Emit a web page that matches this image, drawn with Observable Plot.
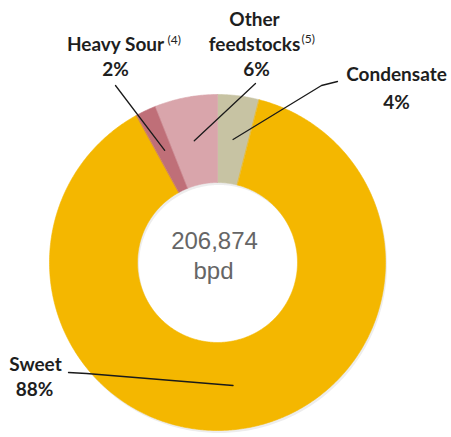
<!DOCTYPE html>
<html><head><meta charset="utf-8">
<script src="https://cdn.jsdelivr.net/npm/d3@7"></script>
<script src="https://cdn.jsdelivr.net/npm/@observablehq/plot@0.6"></script>
<style>body{margin:0;background:#fff}#chart svg{display:block}</style>
</head><body><div id="chart"></div>
<script>
// ---- data ----
const categories = ["Condensate", "Sweet", "Heavy Sour", "Other feedstocks"];
const shares = [4, 88, 2, 6];
const footnotes = ["", "", "(4)", "(5)"];
const totalLabel = "206,874";
const unitLabel = "bpd";

// ---- styles / layout ----
const colors = ["#C7C3A3", "#F4B700", "#BF6F78", "#D9A5AB"];
const W = 451, H = 437;
const cx = 217, cy = 262, R = 168, r = 80;
// label layout (chart units = pixels), baselines
const labelLayout = {
  "Condensate":       {x: 396, y: 80,  lines: 1, pctX: 396, pctY: 108, lead: [[337, 81], [321, 85]]},
  "Sweet":            {x: 35,  y: 370, lines: 1, pctX: 34,  pctY: 395, lead: [[68, 372], [86, 373]]},
  "Heavy Sour":       {x: 115, y: 50,  lines: 1, pctX: 115, pctY: 75,  lead: [[115, 85]], supX: 167, supY: 43},
  "Other feedstocks": {x: 254, y: 25,  lines: 2, pctX: 256, pctY: 75,  lead: [[255, 83]], supX: 301, supY: 42}
};
const lineGap = 25;

const total = d3.sum(shares);
let acc = 0;
const slices = categories.map((c, i) => {
  const a0 = acc / total * 2 * Math.PI; acc += shares[i];
  const a1 = acc / total * 2 * Math.PI;
  return {c, i, a0, a1, mid: (a0 + a1) / 2};
});
const px = (rad, a) => cx + rad * Math.sin(a);
const py = (rad, a) => cy - rad * Math.cos(a);

const ring = [];
for (const s of slices) {
  const n = Math.max(2, Math.ceil((s.a1 - s.a0) / 0.01));
  for (let k = 0; k <= n; k++) { const a = s.a0 + (s.a1 - s.a0) * k / n; ring.push({c: s.c, x: px(R, a), y: py(R, a)}); }
  for (let k = n; k >= 0; k--) { const a = s.a0 + (s.a1 - s.a0) * k / n; ring.push({c: s.c, x: px(r, a), y: py(r, a)}); }
}
// faint shadow ring (outer circle then inner circle reversed -> hole)
const shadow = [];
{
  const n = 360;
  for (let k = 0; k <= n; k++) { const a = 2 * Math.PI * k / n; shadow.push({x: px(R, a) + 1.5, y: py(R, a) + 2.5}); }
  for (let k = n; k >= 0; k--) { const a = 2 * Math.PI * k / n; shadow.push({x: px(r, a) + 1.5, y: py(r, a) + 2.5}); }
}

const leaders = [];
for (const s of slices) {
  const L = labelLayout[s.c];
  for (const [x, y] of L.lead) leaders.push({c: s.c, x, y});
  leaders.push({c: s.c, x: px((R + r) / 2, s.mid), y: py((R + r) / 2, s.mid)});
}

const nameRows = [];
const pctRows = [];
const supRows = [];
for (const s of slices) {
  const L = labelLayout[s.c];
  const words = L.lines > 1 ? s.c.split(" ") : [s.c];
  words.forEach((w, k) => nameRows.push({t: w, x: L.x, y: L.y + k * lineGap}));
  pctRows.push({t: shares[s.i] + "%", x: L.pctX, y: L.pctY});
  if (footnotes[s.i]) supRows.push({t: footnotes[s.i], x: L.supX, y: L.supY});
}
const centerRows = [{t: totalLabel, x: cx - 3, y: 248}, {t: unitLabel, x: cx - 4, y: 278}];

const labelFont = "Lato, 'Open Sans', sans-serif";
const chart = Plot.plot({
  width: W, height: H,
  margin: 0,
  x: {domain: [0, W], range: [0, W], axis: null},
  y: {domain: [0, H], range: [0, H], axis: null},
  color: {domain: categories, range: colors},
  style: {background: "#fff"},
  marks: [
    Plot.line(shadow, {x: "x", y: "y", fill: "#000", fillOpacity: 0.07, stroke: "none", curve: "linear-closed"}),
    Plot.line(ring, {x: "x", y: "y", z: "c", fill: "c", stroke: "c", strokeWidth: 0.6, curve: "linear-closed"}),
    Plot.line(leaders, {x: "x", y: "y", z: "c", stroke: "#1a1a1a", strokeWidth: 1.3}),
    Plot.text(nameRows, {x: "x", y: "y", text: "t", lineAnchor: "bottom", fontSize: 19, fontWeight: "bold", fill: "#1e1e1e", fontFamily: labelFont}),
    Plot.text(pctRows, {x: "x", y: "y", text: "t", lineAnchor: "bottom", fontSize: 19, fontWeight: "bold", fill: "#1e1e1e", fontFamily: labelFont}),
    Plot.text(supRows, {x: "x", y: "y", text: "t", lineAnchor: "bottom", textAnchor: "start", fontSize: 12, fill: "#222", fontFamily: labelFont}),
    Plot.text(centerRows, {x: "x", y: "y", text: "t", lineAnchor: "bottom", fontSize: 24, fill: "#666", fontFamily: "'Liberation Sans', Arial, sans-serif"})
  ]
});
document.getElementById("chart").appendChild(chart);
</script>
</body></html>
